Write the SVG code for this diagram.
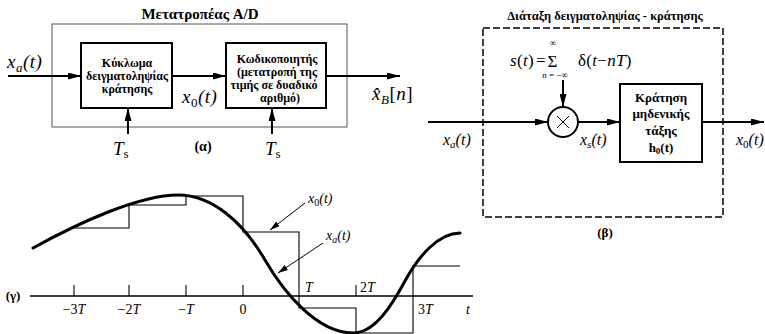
<svg xmlns="http://www.w3.org/2000/svg" width="765" height="334" viewBox="0 0 765 334">
<style>
.bg{fill:#fff}
.thin{fill:none;stroke:#555;stroke-width:1}
.blk{fill:#fff;stroke:#000;stroke-width:2}
.ln{fill:none;stroke:#000;stroke-width:2}
.gl{fill:none;stroke:#000;stroke-width:1.1}
.curve{fill:none;stroke:#000;stroke-width:3;stroke-linecap:round}
.dash{fill:none;stroke:#000;stroke-width:1.5;stroke-dasharray:7 3}
.bt{font-family:'Liberation Serif',serif;font-weight:bold;fill:#000;text-anchor:middle}
.m{font-family:'Liberation Serif',serif;font-style:italic;fill:#000}
.r{font-family:'Liberation Serif',serif;fill:#000}
.up{font-style:normal}
</style>
<defs>
<marker id="ah" viewBox="0 0 13 7" refX="13" refY="3.5" markerWidth="13" markerHeight="7" markerUnits="userSpaceOnUse" orient="auto">
<path d="M0,0 L13,3.5 L0,7 Z" fill="#000"/>
</marker>
<marker id="ah2" viewBox="0 0 10 6" refX="10" refY="3" markerWidth="10" markerHeight="6" markerUnits="userSpaceOnUse" orient="auto">
<path d="M0,0 L10,3 L0,6 Z" fill="#000"/>
</marker>
</defs>
<rect class="bg" x="0" y="0" width="765" height="334"/>

<!-- Part (a) -->
<g id="converter-a">
<text class="bt" x="200" y="19" font-size="15">Μετατροπέας A/D</text>
<rect class="thin" x="52" y="24" width="295" height="103"/>
</g>
<g id="sample-hold-box">
<rect class="blk" x="81" y="43" width="91" height="65"/>
<text class="bt" font-size="12" x="127" y="67">Κύκλωμα</text>
<text class="bt" font-size="12" x="127" y="80">δειγματοληψίας</text>
<text class="bt" font-size="12" x="127" y="93">κράτησης</text>
</g>
<g id="encoder-box">
<rect class="blk" x="226" y="43" width="100" height="65"/>
<text class="bt" font-size="12" x="277" y="63">Κωδικοποιητής</text>
<text class="bt" font-size="12" x="277" y="76">(μετατροπή της</text>
<text class="bt" font-size="12" x="274" y="89">τιμής σε  δυαδικό</text>
<text class="bt" font-size="12" x="280" y="102">αριθμό)</text>
</g>
<g id="labels-a">
<text class="m" x="7" y="68" font-size="19" letter-spacing="0.5">x<tspan font-size="13" dy="4">a</tspan><tspan dy="-4">(t)</tspan></text>
<text class="m" x="182" y="103" font-size="19" letter-spacing="0.5">x<tspan class="up" font-size="13" dy="4">0</tspan><tspan dy="-4">(t)</tspan></text>
<text class="m" x="372" y="100" font-size="19" letter-spacing="0.5">x̂<tspan font-size="13" dy="4">B</tspan><tspan class="up" dy="-4">[</tspan>n<tspan class="up">]</tspan></text>
<text class="m" x="113" y="155" font-size="19">T<tspan class="up" font-size="13" dy="3">s</tspan></text>
<text class="m" x="265" y="155" font-size="19">T<tspan class="up" font-size="13" dy="3">s</tspan></text>
<text class="bt" x="203" y="151" font-size="14">(α)</text>
</g>

<!-- Part (b) -->
<g id="arrangement-b">
<text class="bt" x="605" y="20" font-size="12.5">Διάταξη δειγματοληψίας - κράτησης</text>
<rect class="dash" x="483" y="28" width="240" height="189"/>
<text class="bt" x="605" y="237" font-size="13">(β)</text>
</g>
<g id="multiplier">
<circle cx="563" cy="122" r="15" fill="#fff" stroke="#000" stroke-width="2"/>
<path d="M557,116 L569,128 M569,116 L557,128" stroke="#000" stroke-width="1"/>
</g>
<g id="zoh-box">
<rect class="blk" x="620" y="84" width="82" height="78"/>
<text class="bt" font-size="13" x="661" y="102">Κράτηση</text>
<text class="bt" font-size="13" x="661" y="118">μηδενικής</text>
<text class="bt" font-size="13" x="661" y="135">τάξης</text>
<text class="bt" font-size="13" x="661" y="152">h<tspan font-size="9" dy="2">0</tspan><tspan dy="-2">(t)</tspan></text>
</g>
<g id="labels-b">
<text class="m" x="510" y="66" font-size="17" letter-spacing="0.3">s<tspan class="up">(</tspan>t<tspan class="up">)</tspan></text>
<text class="r" x="536" y="66" font-size="17">=</text>
<text class="r" x="552.5" y="67" font-size="17" text-anchor="middle">Σ</text>
<text class="r" x="553" y="46" font-size="9" text-anchor="middle">∞</text>
<text class="m" x="555" y="78" font-size="9" text-anchor="middle">n<tspan class="up"> = −∞</tspan></text>
<text class="m" x="578" y="66" font-size="17" letter-spacing="0.3"><tspan class="up">δ(</tspan>t<tspan class="up">−</tspan>nT<tspan class="up">)</tspan></text>
<text class="m" x="443" y="145" font-size="16">x<tspan font-size="11" dy="3">a</tspan><tspan dy="-3">(t)</tspan></text>
<text class="m" x="580" y="145" font-size="16">x<tspan font-size="11" dy="3">s</tspan><tspan dy="-3">(t)</tspan></text>
<text class="m" x="736" y="145" font-size="16">x<tspan class="up" font-size="11" dy="3">0</tspan><tspan dy="-3">(t)</tspan></text>
</g>

<!-- Part (c) graph -->
<g id="graph-c">
<line x1="30" y1="296" x2="473" y2="296" stroke="#000" stroke-width="1.5"/>
<path class="gl" d="M74,285 V296 M129,285 V296 M186,285 V296 M243,285 V296 M356,285 V296"/>
<path class="gl" d="M72,228 H129 V205 H186 V196 H243 V232 H299 V308 H356 V333 H413 V266 H460"/>
<path class="curve" d="M33,248 C80,222 140,195 178,195 C212,195 243,222 265,260 C285,294.5 318,333 353,333 C375,333 392,305 405,281 C418,257 438,233 460,233"/>
<g class="r" font-size="14">
<text x="74" y="314" text-anchor="middle">−3<tspan font-style="italic">T</tspan></text>
<text x="129" y="314" text-anchor="middle">−2<tspan font-style="italic">T</tspan></text>
<text x="186" y="314" text-anchor="middle">−<tspan font-style="italic">T</tspan></text>
<text x="243" y="314" text-anchor="middle">0</text>
<text x="305" y="292" font-style="italic">T</text>
<text x="360" y="292">2<tspan font-style="italic">T</tspan></text>
<text x="418" y="314">3<tspan font-style="italic">T</tspan></text>
<text x="466" y="314" font-style="italic">t</text>
</g>
<text class="bt" x="13" y="300" font-size="13">(γ)</text>
<text class="m" x="308" y="203" font-size="14">x<tspan class="up" font-size="10" dy="3">0</tspan><tspan dy="-3">(t)</tspan></text>
<text class="m" x="326" y="240" font-size="14">x<tspan font-size="10" dy="3">a</tspan><tspan dy="-3">(t)</tspan></text>
</g>

<g id="connectors">
<line class="ln" x1="8" y1="76" x2="81" y2="76" marker-end="url(#ah)"/>
<line class="ln" x1="172" y1="76" x2="226" y2="76" marker-end="url(#ah)"/>
<line class="ln" x1="326" y1="76" x2="400" y2="76" marker-end="url(#ah)"/>
<line class="ln" x1="128" y1="134" x2="128" y2="108" marker-end="url(#ah)"/>
<line class="ln" x1="272" y1="134" x2="272" y2="108" marker-end="url(#ah)"/>
<line class="ln" x1="428" y1="122" x2="548" y2="122" marker-end="url(#ah)"/>
<line class="ln" x1="563" y1="80" x2="563" y2="107" marker-end="url(#ah)"/>
<line class="ln" x1="578" y1="122" x2="620" y2="122" marker-end="url(#ah)"/>
<line class="ln" x1="702" y1="122" x2="764" y2="122" marker-end="url(#ah)"/>
<line x1="305" y1="203" x2="270" y2="230" stroke="#000" stroke-width="1" marker-end="url(#ah2)"/>
<line x1="323" y1="243" x2="278" y2="273" stroke="#000" stroke-width="1" marker-end="url(#ah2)"/>
</g>
</svg>
